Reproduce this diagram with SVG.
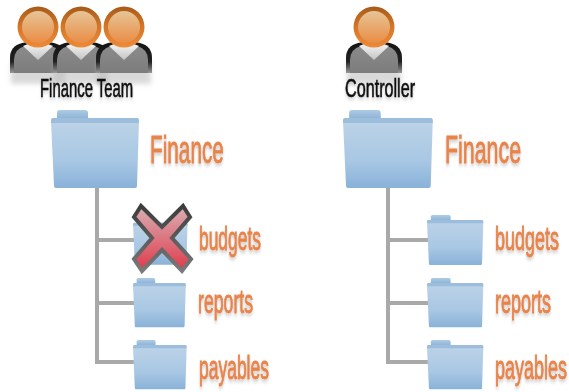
<svg xmlns="http://www.w3.org/2000/svg" xmlns:xlink="http://www.w3.org/1999/xlink" width="569" height="392" viewBox="0 0 569 392">
<style>
text{font-family:"Liberation Sans","DejaVu Sans",sans-serif}
.or{fill:#e8834a;stroke:#e8834a;stroke-width:0.9;filter:url(#ts)}
.bk{fill:#111;stroke:#111;stroke-width:0.6;filter:url(#ts)}
.line{fill:none;stroke:#a9a9a9;stroke-width:4;filter:url(#soft)}
</style>
<defs>
<filter id="soft" x="-10%" y="-10%" width="120%" height="120%"><feGaussianBlur stdDeviation="0.5"/></filter>
<filter id="ts" x="-20%" y="-30%" width="140%" height="170%"><feGaussianBlur stdDeviation="0.35" result="a"/><feGaussianBlur in="SourceAlpha" stdDeviation="2"/><feOffset dy="2"/><feComponentTransfer><feFuncA type="linear" slope="0.25"/></feComponentTransfer><feMerge><feMergeNode/><feMergeNode in="a"/></feMerge></filter>
<filter id="sb" x="-20%" y="-20%" width="140%" height="150%"><feGaussianBlur stdDeviation="2.5"/></filter>
<linearGradient id="fb" x1="0" y1="0" x2="0" y2="1"><stop offset="0" stop-color="#bdd3e7"/><stop offset="0.6" stop-color="#a9c8e4"/><stop offset="1" stop-color="#89b2d8"/></linearGradient>
<linearGradient id="ft" x1="0" y1="0" x2="0" y2="1"><stop offset="0" stop-color="#aecbe4"/><stop offset="1" stop-color="#8fb5d8"/></linearGradient>
<linearGradient id="hd" x1="0" y1="0" x2="0" y2="1"><stop offset="0" stop-color="#e6c596"/><stop offset="1" stop-color="#ea8c45"/></linearGradient>
<linearGradient id="rim" x1="0" y1="0" x2="0" y2="1"><stop offset="0" stop-color="#a85a18"/><stop offset="0.5" stop-color="#d4772a"/><stop offset="1" stop-color="#ee8a38"/></linearGradient>
<linearGradient id="bd" x1="0" y1="0" x2="0" y2="1"><stop offset="0" stop-color="#8c8c8c"/><stop offset="1" stop-color="#7c7c7c"/></linearGradient>
<linearGradient id="out" x1="0" y1="0" x2="0" y2="1"><stop offset="0" stop-color="#111"/><stop offset="0.65" stop-color="#222"/><stop offset="1" stop-color="#999"/></linearGradient>
<linearGradient id="col" x1="0" y1="0" x2="0" y2="1"><stop offset="0" stop-color="#fff"/><stop offset="1" stop-color="#c4c4c4"/></linearGradient>
<linearGradient id="xr" x1="0" y1="0" x2="0" y2="1"><stop offset="0" stop-color="#d8b0b4"/><stop offset="1" stop-color="#e0394a"/></linearGradient>
<linearGradient id="xs" x1="0" y1="0" x2="0" y2="1"><stop offset="0" stop-color="#3c3c3c"/><stop offset="1" stop-color="#7a7a7a"/></linearGradient>
<g id="person">
<rect x="-27" y="62" width="54" height="22" fill="#bbb" opacity="0.55" filter="url(#sb)"/>
<path d="M-28,73 V58 Q-28,46 -16,43 L0,40 L16,43 Q28,46 28,58 V73 Z" fill="url(#out)"/>
<path d="M-24,73 V60 Q-24,49 -13,46 L0,44 L13,46 Q24,49 24,60 V73 Z" fill="url(#bd)"/>
<path d="M-15,46 L0,60 L15,46 L0,40 Z" fill="url(#col)"/>
<circle cx="0" cy="27" r="20.5" fill="url(#rim)"/>
<circle cx="0" cy="27" r="16" fill="url(#hd)"/>
</g>
<g id="folder" filter="url(#soft)">
<path d="M6,8 V2.5 Q6,0 9,0 H34 Q37,0 37,3 V8 Z" fill="url(#ft)"/>
<path d="M2,8 H86 Q88,8 88,11 L86,76 Q86,78 84,78 H5 Q3,78 3,76 L0,11 Q0,8 2,8 Z" fill="url(#fb)"/>
<path d="M2,8 H86 Q88,8 88,11 V13 H0 V11 Q0,8 2,8 Z" fill="#93b8da" opacity="0.8"/>
</g>
</defs>
<rect width="569" height="392" fill="#fff"/>
<g id="connectors">
<path class="line" d="M97,188 V362 H134 M97,240 H134 M97,303 H134"/>
<path class="line" d="M388,188 V362 H428 M388,240 H428 M388,303 H428"/>
</g>
<g id="finance-team">
<use xlink:href="#person" href="#person" transform="translate(38,0)"/>
<use xlink:href="#person" href="#person" transform="translate(81,0)"/>
<use xlink:href="#person" href="#person" transform="translate(124,0)"/>
<text class="bk" font-size="25" transform="translate(40,97) scale(0.595,1)">Finance Team</text>
</g>
<g id="controller">
<use xlink:href="#person" href="#person" transform="translate(374,0)"/>
<text class="bk" font-size="25" transform="translate(345,97) scale(0.647,1)">Controller</text>
</g>
<g id="left-finance">
<use xlink:href="#folder" href="#folder" transform="translate(51,110)"/>
<text class="or" font-size="39" transform="translate(150,163) scale(0.533,1)">Finance</text>
</g>
<g id="left-budgets">
<use xlink:href="#folder" href="#folder" transform="translate(133,218) scale(0.62,0.6)"/>
<path d="M141,206 L162,227 L183,206 L190,217 L172,238 L191,259 L182,271 L162,250 L142,271 L134,259 L152,238 L134,217 Z" fill="url(#xr)" stroke="url(#xs)" stroke-width="4"/>
<text class="or" font-size="33" transform="translate(199,250) scale(0.528,1)">budgets</text>
</g>
<g id="left-reports">
<use xlink:href="#folder" href="#folder" transform="translate(133,278) scale(0.6,0.63)"/>
<text class="or" font-size="33" transform="translate(198,313) scale(0.536,1)">reports</text>
</g>
<g id="left-payables">
<use xlink:href="#folder" href="#folder" transform="translate(133,340) scale(0.61,0.63)"/>
<text class="or" font-size="33" transform="translate(199,379) scale(0.53,1)">payables</text>
</g>
<g id="right-finance">
<use xlink:href="#folder" href="#folder" transform="translate(343,110) scale(1.02,1)"/>
<text class="or" font-size="39" transform="translate(445,163) scale(0.548,1)">Finance</text>
</g>
<g id="right-budgets">
<use xlink:href="#folder" href="#folder" transform="translate(427,215) scale(0.64,0.64)"/>
<text class="or" font-size="33" transform="translate(495,250) scale(0.545,1)">budgets</text>
</g>
<g id="right-reports">
<use xlink:href="#folder" href="#folder" transform="translate(427,278) scale(0.64,0.63)"/>
<text class="or" font-size="33" transform="translate(495,313) scale(0.545,1)">reports</text>
</g>
<g id="right-payables">
<use xlink:href="#folder" href="#folder" transform="translate(427,340) scale(0.64,0.63)"/>
<text class="or" font-size="33" transform="translate(495,379) scale(0.545,1)">payables</text>
</g>
</svg>
